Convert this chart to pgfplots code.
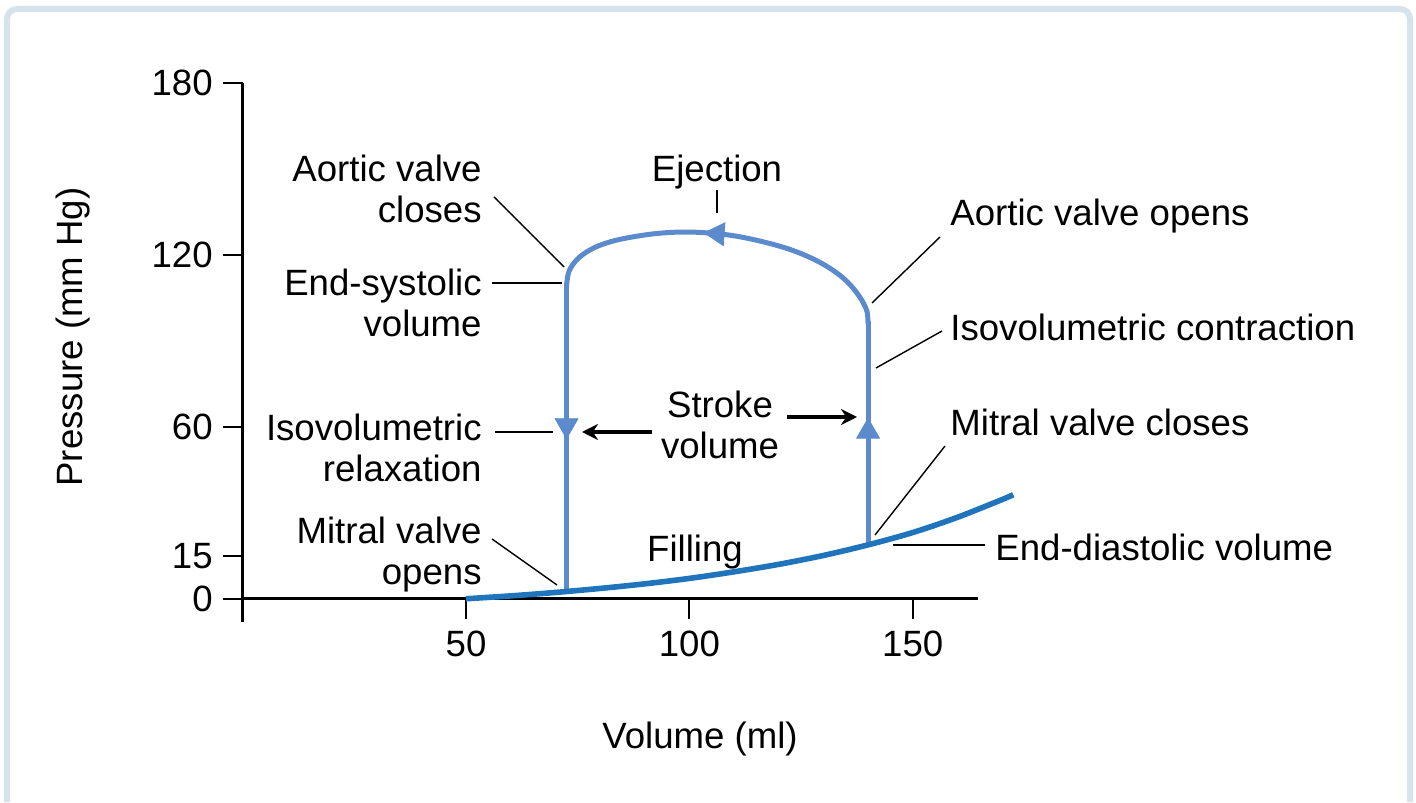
\documentclass[border=0pt]{standalone}
\usepackage{fontspec}
\setmainfont{Liberation Sans}
\usepackage{pgfplots}
\pgfplotsset{compat=1.18}
\usetikzlibrary{arrows.meta}

\definecolor{loopblue}{HTML}{5B8BCD}
\definecolor{fillblue}{HTML}{1F74BC}
\definecolor{framecol}{HTML}{D6E2EC}

\begin{document}
\begin{tikzpicture}[
  lbl/.style={font=\fontsize{18.3}{20.5}\selectfont, inner sep=0pt},
  lead/.style={line width=0.7pt, black}]
\path[use as bounding box] (0,0) rectangle (708pt,401pt);

\begin{axis}[
  at={(121.35pt,90.15pt)}, anchor=south west,
  scale only axis, width=367.4pt, height=269.5pt,
  xmin=0, xmax=164.5, ymin=-8, ymax=180,
  axis lines=middle,
  axis line style={line width=1.4pt, -},
  xtick={50,100,150}, ytick={0,15,60,120,180},
  hide obscured x ticks=false, hide obscured y ticks=false,
  tick align=outside, major tick length=10pt,
  tick style={line width=1pt, black},
  ticklabel style={font=\fontsize{18.3}{20.5}\selectfont},
  xticklabel style={yshift=-2.5pt},
  yticklabel style={xshift=-1.5pt},
  /pgf/number format/assume math mode=true,
  clip=false,
]
% pressure-volume loop: isovolumetric contraction, ejection, relaxation
\addplot[loopblue, line width=2.5pt] coordinates {(140,18.7) (140,97)};
\addplot[loopblue, line width=2.5pt, smooth, tension=0.6, line cap=round] coordinates {
  (140,96) (139.8,100) (139,103) (137.8,106) (136,109.5) (133.7,112.8)
  (130.5,116.2) (126.2,119.6) (121,122.6) (114,125.4) (107.6,127.1)
  (100,127.9) (92.7,127.4) (85.2,125.6) (80.5,123.6) (77.7,121.6)
  (75.6,119.4) (74,116.8) (72.9,113.5) (72.5,109)
};
\addplot[loopblue, line width=2.5pt] coordinates {(72.5,110) (72.5,2.6)};
% filling curve
\addplot[fillblue, line width=2.8pt, smooth] coordinates {
  (50,0) (60,1.0) (70,2.2) (80,3.6) (90,5.2) (100,7.1) (110,9.4)
  (120,12.0) (130,15.1) (140,18.8) (150,23.1) (160,28.4) (170,34.6) (172.5,36.3)
};
\addplot[only marks, mark=triangle*, mark size=6.6pt, color=loopblue] coordinates {(140,58.3)};
\addplot[only marks, mark=triangle*, mark size=6.6pt, color=loopblue, mark options={rotate=180}] coordinates {(72.5,60.5)};
\addplot[only marks, mark=triangle*, mark size=6.6pt, color=loopblue, mark options={rotate=86}] coordinates {(106.3,127.3)};
\end{axis}

\begin{scope}[x=0.5pt, y=-0.5pt, shift={(0,401pt)}]
% frame
\draw[framecol, line width=3pt, rounded corners=5pt] (7,802) -- (7,9) -- (1410,9) -- (1410,802);

% axis labels
\node[lbl, anchor=base] at (700,748) {Volume (ml)};
\node[lbl, anchor=base, rotate=90] at (82,337) {Pressure (mm Hg)};

% left labels
\node[lbl, anchor=base east] at (482,182) {Aortic valve};
\node[lbl, anchor=base east] at (482,223) {closes};
\node[lbl, anchor=base east] at (482,296) {End-systolic};
\node[lbl, anchor=base east] at (482,337) {volume};
\node[lbl, anchor=base east] at (482,441) {Isovolumetric};
\node[lbl, anchor=base east] at (482,482) {relaxation};
\node[lbl, anchor=base east] at (482,544) {Mitral valve};
\node[lbl, anchor=base east] at (482,585) {opens};

% centre labels
\node[lbl, anchor=base] at (717,182) {Ejection};
\node[lbl, anchor=base] at (720,418) {Stroke};
\node[lbl, anchor=base] at (720,459) {volume};
\node[lbl, anchor=base] at (695,562) {Filling};

% right labels
\node[lbl, anchor=base west] at (950,226) {Aortic valve opens};
\node[lbl, anchor=base west] at (950,341) {Isovolumetric contraction};
\node[lbl, anchor=base west] at (950,436) {Mitral valve closes};
\node[lbl, anchor=base west] at (995,561) {End-diastolic volume};

% leader lines
\draw[lead] (494,197) -- (564,267);
\draw[lead] (717,190) -- (717,213);
\draw[lead] (872,303) -- (940,237);
\draw[lead] (492,283) -- (562,283);
\draw[lead] (876,368) -- (942,331);
\draw[lead] (495,432) -- (553,432);
\draw[lead] (945,446) -- (875,535);
\draw[lead] (492,539) -- (557,585);
\draw[lead] (893,545) -- (985,545);

% stroke volume arrows
\draw[line width=2pt, -{Stealth[length=8pt, width=8pt]}] (652,432) -- (582,432);
\draw[line width=2pt, -{Stealth[length=8pt, width=8pt]}] (787,417) -- (857,417);
\end{scope}
\end{tikzpicture}
\end{document}
